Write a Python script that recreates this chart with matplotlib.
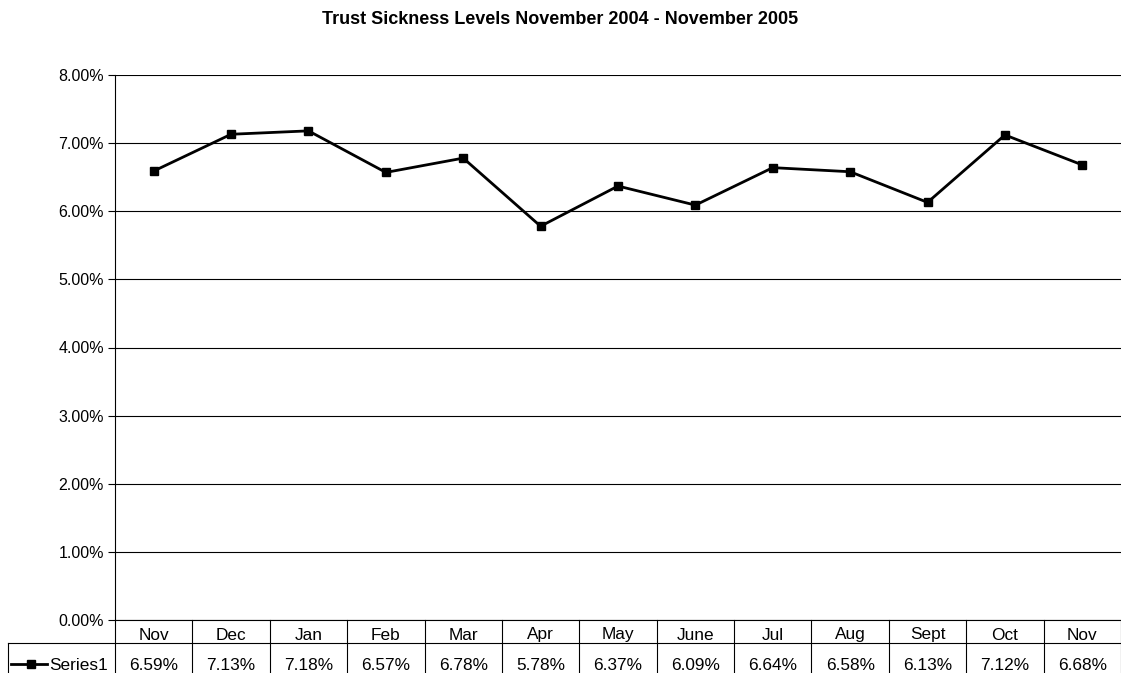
import numpy as np
import matplotlib
matplotlib.use("Agg")
import matplotlib.pyplot as plt
from matplotlib.ticker import FuncFormatter
from matplotlib.lines import Line2D

plt.rcParams['font.family'] = ['Liberation Sans', 'DejaVu Sans']

# data
months = ["Nov", "Dec", "Jan", "Feb", "Mar", "Apr", "May", "June", "Jul", "Aug", "Sept", "Oct", "Nov"]
sickness = [6.59, 7.13, 7.18, 6.57, 6.78, 5.78, 6.37, 6.09, 6.64, 6.58, 6.13, 7.12, 6.68]
series_name = "Series1"

W, H = 1121, 673
fig = plt.figure(figsize=(W / 100, H / 100), dpi=100)
ax = fig.add_axes([115 / W, 1 - 620 / H, 1 - 115 / W, (620 - 75) / H])

x = np.arange(len(months))
ax.plot(x, sickness, color='black', linewidth=2.0, marker='s', markersize=6, clip_on=False)

ax.set_xlim(-0.5, len(months) - 0.5)
ax.set_ylim(0, 8)
ax.set_yticks(np.arange(0, 9, 1))
ax.yaxis.set_major_formatter(FuncFormatter(lambda v, p: f"{v:.2f}%"))
ax.grid(True, axis='y', color='black', linewidth=0.8)
ax.set_axisbelow(True)
ax.tick_params(axis='y', length=5, width=0.8, labelsize=11.5, pad=3)
ax.set_xticks([])
for s in ['top', 'right']:
    ax.spines[s].set_visible(False)
ax.spines['left'].set_linewidth(0.8)
ax.spines['bottom'].set_linewidth(0.8)

fig.text(560 / W, 1 - 20 / H, "Trust Sickness Levels November 2004 - November 2005",
         ha='center', va='center', fontsize=13, fontweight='bold')

# data table under the plot
trans = ax.get_xaxis_transform()
px = 1.0 / (620 - 75)  # one pixel in axes fraction
for i in range(len(months) + 1):
    ax.add_line(Line2D([i - 0.5, i - 0.5], [0, -60 * px], transform=trans, color='black',
                       linewidth=0.8, clip_on=False))
for i, (m, v) in enumerate(zip(months, sickness)):
    ax.text(i, -15 * px, m, transform=trans, ha='center', va='center', fontsize=12.4)
    ax.text(i, -45 * px, f"{v:.2f}%", transform=trans, ha='center', va='center', fontsize=12.4)

# horizontal line across table and left legend column
yrow = 1 - 643 / H
fig.add_artist(Line2D([8 / W, 1], [yrow, yrow], color='black', linewidth=0.8))
fig.add_artist(Line2D([8 / W, 8 / W], [yrow, 0], color='black', linewidth=0.8))
fig.add_artist(Line2D([11 / W, 31 / W, 47 / W], [1 - 664 / H] * 3, color='black',
                      linewidth=2.0, marker='s', markersize=6, markevery=[1]))
fig.text(49 / W, 1 - 665 / H, series_name, ha='left', va='center', fontsize=12.4)

plt.savefig("out.png", dpi=100)
